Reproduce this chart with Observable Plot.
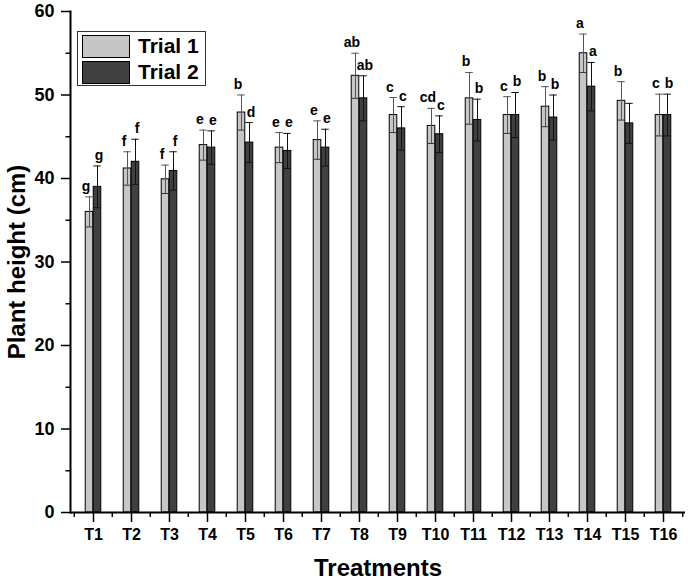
<!DOCTYPE html>
<html>
<head>
<meta charset="utf-8">
<script src="https://cdn.jsdelivr.net/npm/d3@7"></script>
<script src="https://cdn.jsdelivr.net/npm/@observablehq/plot@0.6"></script>
<style>
  body { margin: 0; background: #fff; font-family: "Liberation Sans", Arial, sans-serif; }
  #wrap { position: relative; width: 688px; height: 581px; }
  #legend { position: absolute; left: 77px; top: 31px; width: 129px; height: 55px; box-sizing: border-box;
            border: 1px solid #333; background: #fff; }
  .row { position: absolute; left: 4px; height: 24px; display: flex; align-items: center; }
  .sw { width: 48px; height: 23px; box-sizing: border-box; border: 1.5px solid #000; }
  .lab { margin-left: 8px; font-weight: bold; font-size: 21px; color: #000; }
  g[aria-label="y-axis label"] { font-size: 24px; }
  g[aria-label="x-axis label"] { font-size: 24px; }
</style>
</head>
<body>
<div id="wrap"></div>
<script>
const treatments = ["T1","T2","T3","T4","T5","T6","T7","T8","T9","T10","T11","T12","T13","T14","T15","T16"];
const seriesNames = ["Trial 1", "Trial 2"];
const trial1 = [36.0, 41.2, 39.9, 44.0, 47.9, 43.7, 44.6, 52.3, 47.6, 46.3, 49.6, 47.6, 48.6, 55.0, 49.3, 47.6];
const trial1Err = [1.8, 2.0, 1.7, 1.8, 2.1, 1.8, 2.3, 2.7, 2.1, 2.1, 3.1, 2.2, 2.4, 2.3, 2.3, 2.5];
const trial2 = [39.0, 42.0, 40.9, 43.7, 44.3, 43.3, 43.7, 49.6, 46.0, 45.3, 47.0, 47.6, 47.3, 51.0, 46.6, 47.6];
const trial2Err = [2.5, 2.7, 2.3, 2.0, 2.4, 2.1, 2.2, 2.7, 2.6, 2.2, 2.5, 2.7, 2.7, 2.9, 2.4, 2.5];
const letters1 = ["g","f","f","e","b","e","e","ab","c","cd","b","c","b","a","b","c"];
const letters2 = ["g","f","f","e","d","e","e","ab","c","c","b","b","b","a","","b"];
const yTicks = [0, 10, 20, 30, 40, 50, 60];
const yMinorTicks = [5, 15, 25, 35, 45, 55];

const rows1 = treatments.map((t, i) => ({t, value: trial1[i], err: trial1Err[i], letter: letters1[i]}));
const rows2 = treatments.map((t, i) => ({t, value: trial2[i], err: trial2Err[i], letter: letters2[i]}));

const width = 688, height = 581;
const marginLeft = 70, marginRight = 3, marginTop = 11, marginBottom = 69;
const bw = (width - marginLeft - marginRight) / treatments.length;
const barW = 8;
const lo = d => d.value - d.err;
const hi = d => d.value + d.err;
const light = "#c6c6c6", dark = "#404040";

const chart = Plot.plot({
  width, height, marginLeft, marginRight, marginTop, marginBottom,
  style: {fontFamily: "'Liberation Sans', Arial, sans-serif", color: "#000", background: "#fff"},
  x: {type: "band", domain: treatments, padding: 0},
  y: {domain: [0, 60]},
  marks: [
    Plot.barY(rows1, {x: "t", y: "value", fill: light, stroke: "#000", strokeWidth: 1,
      insetLeft: bw / 2 - barW, insetRight: bw / 2}),
    Plot.barY(rows2, {x: "t", y: "value", fill: dark, stroke: "#000", strokeWidth: 1,
      insetLeft: bw / 2, insetRight: bw / 2 - barW}),
    Plot.ruleX(rows1, {x: "t", y1: lo, y2: hi, dx: -barW / 2, stroke: "#555", strokeWidth: 1}),
    Plot.ruleX(rows2, {x: "t", y1: lo, y2: hi, dx: barW / 2, stroke: "#111", strokeWidth: 1}),
    Plot.tickY(rows1, {x: "t", y: hi, stroke: "#555", insetLeft: bw / 2 - barW, insetRight: bw / 2}),
    Plot.tickY(rows1, {x: "t", y: lo, stroke: "#333", insetLeft: bw / 2 - barW, insetRight: bw / 2}),
    Plot.tickY(rows2, {x: "t", y: hi, stroke: "#111", insetLeft: bw / 2, insetRight: bw / 2 - barW}),
    Plot.tickY(rows2, {x: "t", y: lo, stroke: "#111", insetLeft: bw / 2, insetRight: bw / 2 - barW}),
    Plot.text(rows1, {x: "t", y: hi, text: "letter", dx: -7.5, dy: -6, lineAnchor: "bottom",
      fontSize: 14, fontWeight: "bold", fill: "#000"}),
    Plot.text(rows2, {x: "t", y: hi, text: "letter", dx: 5.5, dy: -6, lineAnchor: "bottom",
      fontSize: 14, fontWeight: "bold", fill: "#000"}),
    Plot.axisY({ticks: yTicks, tickSize: 9, tickPadding: 7, fontSize: 18, fontWeight: "bold",
      strokeWidth: 1.5, label: "Plant height (cm)", labelAnchor: "center", labelOffset: 63, labelArrow: "none"}),
    Plot.axisY({ticks: yMinorTicks, tickSize: 4.5, strokeWidth: 1.5, tickFormat: () => "", label: null}),
    Plot.axisX({tickSize: 10, tickPadding: 6, fontSize: 16, fontWeight: "bold", strokeWidth: 1.5,
      label: "Treatments", labelAnchor: "center", labelOffset: 63, labelArrow: "none"}),
    Plot.axisX({tickSize: 5, strokeWidth: 1.5, dx: -bw / 2, tickFormat: () => "", label: null}),
    Plot.axisX({ticks: [treatments[treatments.length - 1]], tickSize: 5, strokeWidth: 1.5, dx: bw / 2,
      tickFormat: () => "", label: null}),
    Plot.ruleY([0], {stroke: "#000", strokeWidth: 2}),
    Plot.frame({anchor: "left", stroke: "#000", strokeWidth: 2})
  ]
});

const wrap = document.getElementById("wrap");
wrap.appendChild(chart);

const legend = document.createElement("div");
legend.id = "legend";
[light, dark].forEach((c, i) => {
  const row = document.createElement("div");
  row.className = "row";
  row.style.top = (i === 0 ? 2 : 28) + "px";
  const sw = document.createElement("div");
  sw.className = "sw";
  sw.style.background = c;
  const lab = document.createElement("span");
  lab.className = "lab";
  lab.textContent = seriesNames[i];
  row.appendChild(sw);
  row.appendChild(lab);
  legend.appendChild(row);
});
wrap.appendChild(legend);
</script>
</body>
</html>
